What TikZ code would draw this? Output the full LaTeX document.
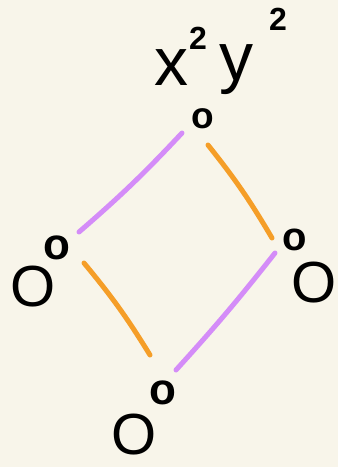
\documentclass[tikz,border=0pt]{standalone}
\usepackage{fontspec}
\setmainfont{Liberation Sans}
\definecolor{bg}{HTML}{F8F5EA}
\definecolor{purp}{HTML}{D48CF8}
\definecolor{orng}{HTML}{F59E28}
\begin{document}
\begin{tikzpicture}[x=1pt,y=-1pt,
  glyph/.style={inner sep=0pt,outer sep=0pt,text=black},
  big/.style={glyph,font=\fontsize{58}{58}\selectfont},
  sm/.style={glyph,font=\fontsize{#1}{#1}\selectfont\bfseries},
  letter/.style={glyph,font=\fontsize{68}{68}\selectfont},
  sup/.style={glyph,font=\fontsize{32}{32}\selectfont\bfseries},
  purpline/.style={draw=purp,line width=5pt,line cap=round},
  orngline/.style={draw=orng,line width=5pt,line cap=round}]
\fill[bg] (0,0) rectangle (338,467);
\useasboundingbox (0,0) rectangle (338,467);
% top
\node[letter] (tx) at (171,68) {x};
\node[sup] (tx2) at (198,38) {2};
\node[letter] (ty) at (236,70) {y};
\node[sup] (ty2) at (278,19) {2};
\node[sm=37] (to) at (203,119) {o};
% left
\node[big] (lO) at (33,287) {O};
\node[sm=44] (lo) at (57,248) {o};
% right
\node[sm=40] (ro) at (295,240) {o};
\node[big] (rO) at (314,283) {O};
% bottom
\node[sm=44] (bo) at (163,393) {o};
\node[big] (bO) at (134,435) {O};
% connectors
\draw[purpline] ([shift={(-21,14)}]to.center) to[bend left=3] ([shift={(22,-16)}]lo.center);
\draw[orngline] ([shift={(5,26)}]to.center) to[bend left=4] ([shift={(-23,-2)}]ro.center);
\draw[orngline] ([shift={(27,15)}]lo.center) to[bend left=4] ([shift={(-13,-38)}]bo.center);
\draw[purpline] ([shift={(-20,13)}]ro.center) to[bend left=2] ([shift={(13,-23)}]bo.center);
\end{tikzpicture}
\end{document}
